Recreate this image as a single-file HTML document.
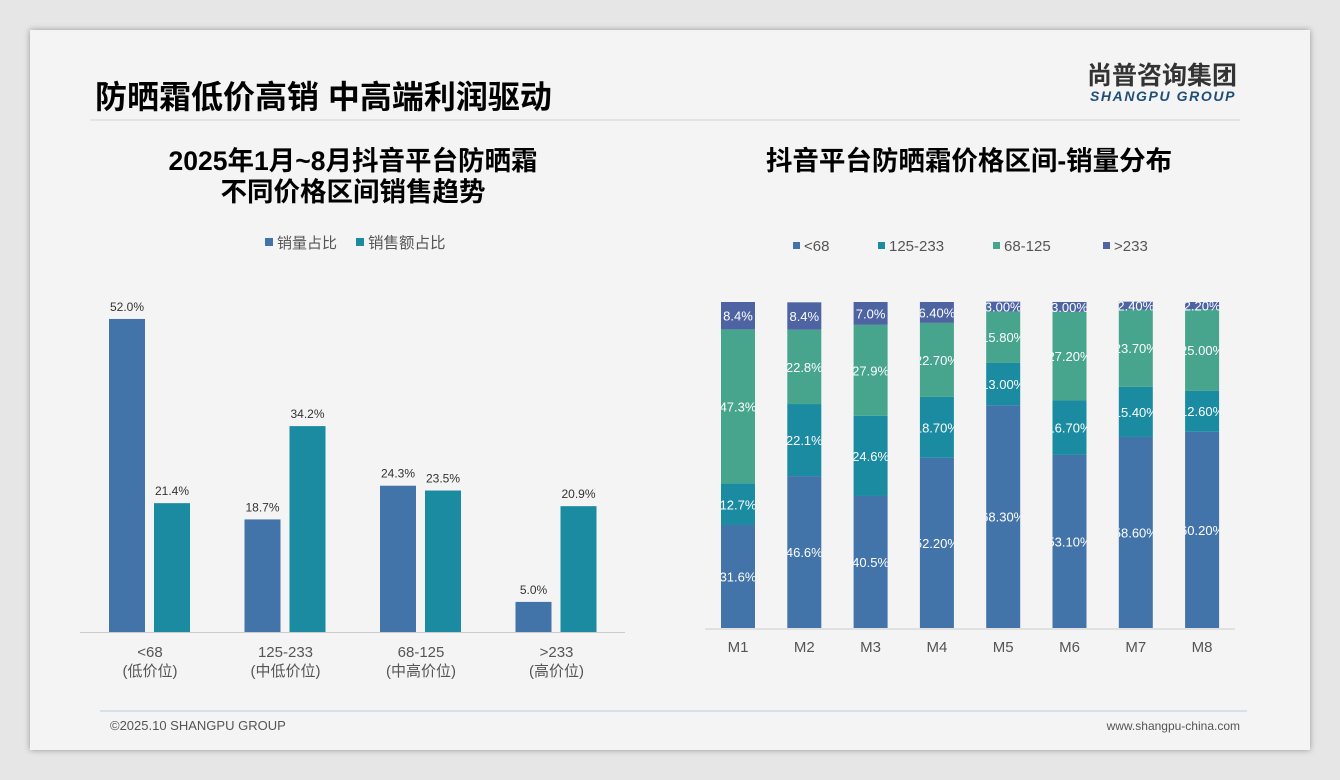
<!DOCTYPE html>
<html><head><meta charset="utf-8">
<style>
body{margin:0;width:1340px;height:780px;background:#e6e6e6;font-family:"Liberation Sans","Noto Sans CJK SC",sans-serif;overflow:hidden;position:relative}
.slide{position:absolute;left:30px;top:30px;width:1280px;height:720px;background:#f4f4f4;box-shadow:0 0 6px rgba(0,0,0,.35)}
</style></head><body>
<div class="slide"></div>
<svg width="1340" height="780" style="position:absolute;left:0;top:0" font-family="Liberation Sans, Noto Sans CJK SC, sans-serif">
<text x="95" y="108" font-size="32" font-weight="bold" fill="#000">防晒霜低价高销 中高端利润驱动</text>
<text x="1162" y="84" font-size="25" font-weight="bold" fill="#333" text-anchor="middle">尚普咨询集团</text>
<text x="1163" y="101" font-size="14" font-weight="bold" font-style="italic" fill="#1f4e79" text-anchor="middle" letter-spacing="1.6">SHANGPU GROUP</text>
<line x1="90" y1="120" x2="1240" y2="120" stroke="#ddd" stroke-width="1.5"/>
<line x1="100" y1="711" x2="1247" y2="711" stroke="#b8cce4" stroke-width="1"/>
<text x="110" y="730" font-size="13" fill="#555">©2025.10 SHANGPU GROUP</text>
<text x="1240" y="730" font-size="12" fill="#555" text-anchor="end">www.shangpu-china.com</text>
<text x="353" y="170" font-size="26.5" font-weight="bold" text-anchor="middle">2025年1月~8月抖音平台防晒霜</text>
<text x="353" y="201" font-size="26.5" font-weight="bold" text-anchor="middle">不同价格区间销售趋势</text>
<text x="969" y="170" font-size="26.5" font-weight="bold" text-anchor="middle">抖音平台防晒霜价格区间-销量分布</text>
<g id="left"></g>
<g id="right"></g>
</svg>
<script>
const leftCats=["<68","125-233","68-125",">233"];
const leftSub=["(低价位)","(中低价位)","(中高价位)","(高价位)"];
const volShare=[52.0,18.7,24.3,5.0];
const amtShare=[21.4,34.2,23.5,20.9];
const months=["M1","M2","M3","M4","M5","M6","M7","M8"];
const segNames=["<68","125-233","68-125",">233"];
const segLow=[31.6,46.6,40.5,52.2,68.3,53.1,58.6,60.2];
const segMidLow=[12.7,22.1,24.6,18.7,13.0,16.7,15.4,12.6];
const segMidHigh=[47.3,22.8,27.9,22.7,15.8,27.2,23.7,25.0];
const segHigh=[8.4,8.4,7.0,6.4,3.0,3.0,2.4,2.2];
const segLabels=[["31.6%","46.6%","40.5%","52.20%","68.30%","53.10%","58.60%","60.20%"],["12.7%","22.1%","24.6%","18.70%","13.00%","16.70%","15.40%","12.60%"],["47.3%","22.8%","27.9%","22.70%","15.80%","27.20%","23.70%","25.00%"],["8.4%","8.4%","7.0%","6.40%","3.00%","3.00%","2.40%","2.20%"]];
const NS="http://www.w3.org/2000/svg";
function mk(p,t,a){const e=document.createElementNS(NS,t);for(const k in a)e.setAttribute(k,a[k]);p.appendChild(e);return e;}
const C1="#4374a9",C2="#1a8ba0",C3="#46a58c",C4="#4d63a2";
const L=document.getElementById('left');
const lBase=632,lScale=6.02;
const lx=i=>150+i*135.5;
const ly=v=>lBase-v*lScale;
let ax=mk(L,'line',{x1:80,y1:lBase+0.5,x2:625,y2:lBase+0.5,stroke:'#ccc'});

let lg=mk(L,'rect',{x:265,y:238,width:8,height:8,fill:C1});
let lt=mk(L,'text',{x:277,y:248,'font-size':15,fill:'#555'});lt.textContent='销量占比';
lg=mk(L,'rect',{x:356,y:238,width:8,height:8,fill:C2});
lt=mk(L,'text',{x:368,y:248,'font-size':15.5,fill:'#555'});lt.textContent='销售额占比';
leftCats.forEach((c,i)=>{
 const cx=lx(i);
 [[volShare[i],-41,C1,'volume'],[amtShare[i],4,C2,'amount']].forEach(([v,off,col,n])=>{
  const r=mk(L,'rect',{x:cx+off,y:ly(v),width:36,height:v*lScale,fill:col});
  
  const t=mk(L,'text',{x:cx+off+18,y:ly(v)-8,'font-size':12,fill:'#333','text-anchor':'middle'});
  t.textContent=v.toFixed(1)+'%';
 });
 const t1=mk(L,'text',{x:cx,y:657,'font-size':15,fill:'#555','text-anchor':'middle'});t1.textContent=c;
 
 const t2=mk(L,'text',{x:cx,y:676,'font-size':15,fill:'#555','text-anchor':'middle'});t2.textContent=leftSub[i];
 
});
const R=document.getElementById('right');
const rBase=628,rScale=3.26;
const rx=i=>738+i*66.3;
ax=mk(R,'line',{x1:705,y1:rBase+1,x2:1235,y2:rBase+1,stroke:'#ccc'});

const cols=[C1,C2,C3,C4];const legX=[793,878,993,1103];
segNames.forEach((n,k)=>{
 const s=mk(R,'rect',{x:legX[k],y:242,width:7,height:7,fill:cols[k]});
 const t=mk(R,'text',{x:legX[k]+11,y:251,'font-size':15,fill:'#555'});t.textContent=n;
});
const defs=mk(R,'defs',{});
const series=[segLow,segMidLow,segMidHigh,segHigh];
months.forEach((m,i)=>{
 const cx=rx(i);
 const cp=mk(defs,'clipPath',{id:'cp'+i});mk(cp,'rect',{x:cx-17,y:0,width:34,height:780});
 let y=rBase;
 series.forEach((arr,k)=>{
  const h=arr[i]*rScale;y-=h;
  const r=mk(R,'rect',{x:cx-17,y:y,width:34,height:h,fill:cols[k]});
  
  const t=mk(R,'text',{x:cx,y:y+h/2+5,'font-size':13,fill:'#fff','text-anchor':'middle','clip-path':'url(#cp'+i+')'});
  t.textContent=segLabels[k][i];
 });
 const t=mk(R,'text',{x:cx,y:652,'font-size':15,fill:'#555','text-anchor':'middle'});t.textContent=m;
 
});
</script>
</body></html>
